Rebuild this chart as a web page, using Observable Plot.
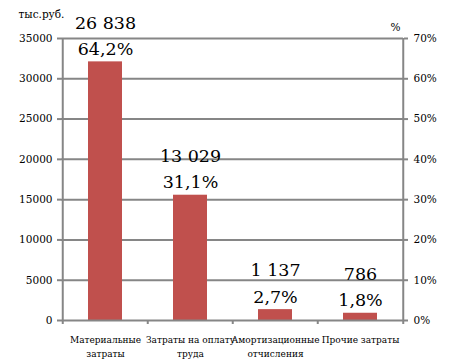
<!DOCTYPE html>
<html><head><meta charset="utf-8">
<script src="https://cdn.jsdelivr.net/npm/d3@7"></script>
<script src="https://cdn.jsdelivr.net/npm/@observablehq/plot@0.6"></script>
<style>
body{margin:0;background:#fff}
#chart svg, #chart svg text { font-family: "DejaVu Serif", serif !important; }
</style>
</head><body><div id="chart"></div>
<script>
const categories = ["Материальные\nзатраты", "Затраты на оплату\nтруда", "Амортизационные\nотчисления", "Прочие затраты"];
const amounts = ["26 838", "13 029", "1 137", "786"];
const shares = [64.2, 31.1, 2.7, 1.8];
const shareLabels = ["64,2%", "31,1%", "2,7%", "1,8%"];
const pctTicks = [0, 10, 20, 30, 40, 50, 60, 70];
const leftTickLabels = ["0", "5000", "10000", "15000", "20000", "25000", "30000", "35000"];
const rightTickLabels = ["0%", "10%", "20%", "30%", "40%", "50%", "60%", "70%"];

const data = categories.map((c, i) => ({cat: c, share: shares[i], label: amounts[i] + "\n" + shareLabels[i]}));
const grey = "#868686";
const step = (472 - 61 - 69) / 4;

const chart = Plot.plot({
  width: 472, height: 360,
  marginTop: 38, marginBottom: 40, marginLeft: 61, marginRight: 69,
  style: {background: "#fff", color: "#000"},
  x: {domain: categories, paddingInner: 0.6, paddingOuter: 0.3, label: null},
  y: {domain: [0, 70], label: null},
  marks: [
    Plot.ruleY(pctTicks.slice(1), {stroke: grey, strokeWidth: 2}),
    Plot.barY(data, {x: "cat", y: "share", fill: "#C0504D"}),
    Plot.ruleX(categories.slice(0, 1), {x: d => d, y1: 0, y2: 70, dx: -step / 2, stroke: grey, strokeWidth: 2}),
    Plot.ruleY([0], {stroke: grey, strokeWidth: 2}),
    Plot.axisY({anchor: "left", ticks: pctTicks, tickFormat: (d) => leftTickLabels[pctTicks.indexOf(d)], tickSize: 4, tickPadding: 5, stroke: grey, strokeWidth: 2, fill: "#000", fontSize: 10.5, label: null}),
    Plot.axisY({anchor: "right", ticks: pctTicks, tickFormat: (d) => rightTickLabels[pctTicks.indexOf(d)], tickSize: 4, tickPadding: 6, stroke: grey, strokeWidth: 2, fill: "#000", fontSize: 10.5, label: null}),
    Plot.axisX({anchor: "bottom", tickSize: 0, tickPadding: 12, fontSize: 9, lineHeight: 1.6, fill: "#000", label: null}),
    Plot.ruleX(categories, {x: d => d, y1: 0, y2: -1, dx: -step / 2, stroke: grey, strokeWidth: 2}),
    Plot.ruleX(categories.slice(-1), {x: d => d, y1: -1, y2: 70, dx: step / 2, stroke: grey, strokeWidth: 2}),
    Plot.text(data, {x: "cat", y: "share", text: "label", lineAnchor: "bottom", dy: -7, fontSize: 17.5, lineHeight: 1.5, fill: "#000"}),
    Plot.text(["тыс.руб."], {frameAnchor: "top-left", dx: -43, dy: -28, textAnchor: "start", fontSize: 10.5, fill: "#000"}),
    Plot.text(["%"], {frameAnchor: "top-right", dx: -3, dy: -15, fontSize: 10.5, fill: "#000"})
  ]
});
document.getElementById("chart").appendChild(chart);
</script></body></html>
